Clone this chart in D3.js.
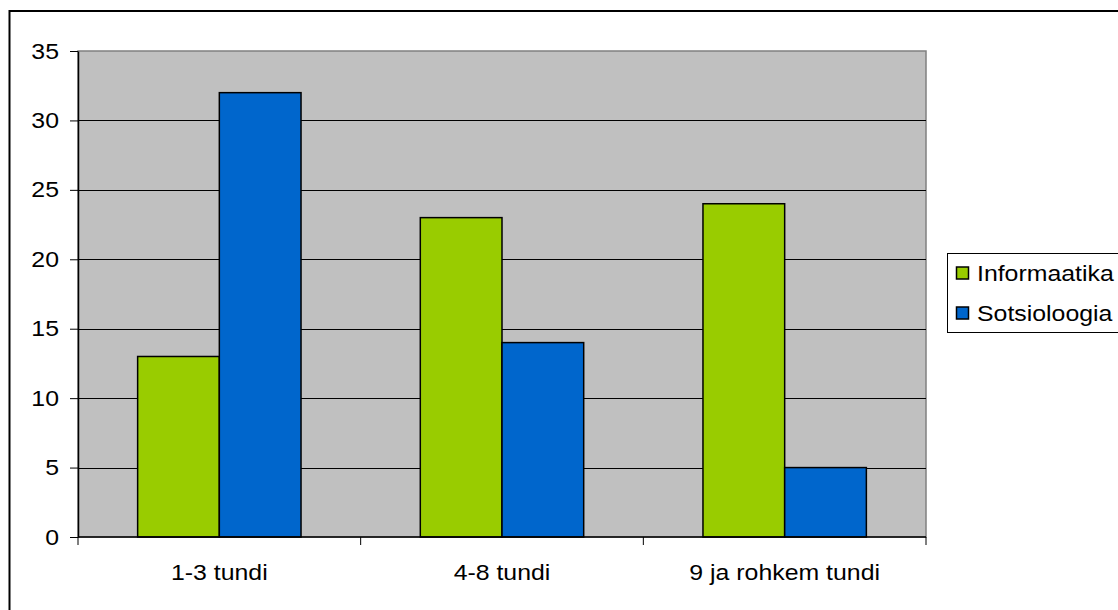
<html>
  <head>
    <meta charset="utf-8" />
    <title>Tunnid</title>
    <script src="https://d3js.org/d3.v7.min.js"></script>
    <style>
      body {
        margin: 0;
        background: #fff;
      }
      text {
        font-family: "Liberation Sans", Arial, sans-serif;
        fill: #000;
      }
    </style>
  </head>
  <body>
    <svg id="chart"></svg>
    <script>
      var categories = ["1-3 tundi", "4-8 tundi", "9 ja rohkem tundi"];
      var seriesNames = ["Informaatika", "Sotsioloogia"];
      var informaatika = [13, 23, 24];
      var sotsioloogia = [32, 14, 5];
      var yTicks = [0, 5, 10, 15, 20, 25, 30, 35];
      var colors = ["#99cc00", "#0066cc"];

      var width = 1118;
      var height = 610;
      var fontSize = 22;
      var stretchX = 1.13; // the original text is a bit wide
      var plot = { left: 78, right: 926, top: 51, bottom: 537 };

      var svg = d3.select("#chart")
        .attr("width", width)
        .attr("height", height);

      function stretch(sel) {
        sel.each(function() {
          var t = d3.select(this);
          var x0 = +t.attr("x") || 0;
          t.attr("x", x0 / stretchX)
            .attr("transform", "scale(" + stretchX + ",1)");
        });
      }

      // outer frame (runs off the right and bottom edges)
      svg.append("rect")
        .attr("x", 9.5)
        .attr("y", 11)
        .attr("width", width + 20)
        .attr("height", height + 20)
        .attr("fill", "#fff")
        .attr("stroke", "#000")
        .attr("stroke-width", 2);

      var x = d3.scaleBand()
        .domain(categories)
        .range([plot.left, plot.right]);

      var inner = d3.scaleBand()
        .domain(seriesNames)
        .range([0, x.bandwidth()])
        .paddingOuter(0.73)
        .paddingInner(0);

      var y = d3.scaleLinear()
        .domain([0, 35])
        .range([plot.bottom, plot.top]);

      // plot background
      svg.append("rect")
        .attr("x", plot.left)
        .attr("y", plot.top)
        .attr("width", plot.right - plot.left)
        .attr("height", plot.bottom - plot.top)
        .attr("fill", "#c0c0c0")
        .attr("stroke", "#808080")
        .attr("stroke-width", 1.5);

      // gridlines
      svg.append("g")
        .selectAll("line")
        .data(yTicks.filter(function(d) { return d > 0 && d < 35; }))
        .enter().append("line")
        .attr("x1", plot.left)
        .attr("x2", plot.right)
        .attr("y1", function(d) { return Math.round(y(d)) + 0.5; })
        .attr("y2", function(d) { return Math.round(y(d)) + 0.5; })
        .attr("stroke", "#000")
        .attr("stroke-width", 1);

      var series = [informaatika, sotsioloogia];

      var groups = svg.append("g")
        .selectAll("g")
        .data(categories)
        .enter().append("g")
        .attr("transform", function(d) { return "translate(" + x(d) + ",0)"; });

      groups.selectAll("rect")
        .data(function(d, i) {
          return seriesNames.map(function(s, j) {
            return { name: s, value: series[j][i], color: colors[j] };
          });
        })
        .enter().append("rect")
        .attr("x", function(d) { return inner(d.name); })
        .attr("width", inner.bandwidth())
        .attr("y", function(d) { return y(d.value); })
        .attr("height", function(d) { return y(0) - y(d.value); })
        .attr("fill", function(d) { return d.color; })
        .attr("stroke", "#000")
        .attr("stroke-width", 1.5);

      // y axis
      var yAxis = d3.axisLeft(y)
        .tickValues(yTicks)
        .tickSize(8)
        .tickPadding(11)
        .tickSizeOuter(0);

      var yG = svg.append("g")
        .attr("transform", "translate(" + plot.left + ",0)")
        .call(yAxis);
      yG.select(".domain").attr("stroke", "#000").attr("stroke-width", 1.5);
      yG.selectAll(".tick line").attr("stroke", "#000");
      yG.selectAll("text")
        .attr("font-size", fontSize)
        .attr("font-family", "Liberation Sans, Arial, sans-serif")
        .attr("fill", "#000")
        .call(stretch);

      // x axis with ticks at band boundaries
      var xG = svg.append("g")
        .attr("transform", "translate(0," + plot.bottom + ")");
      xG.append("line")
        .attr("x1", plot.left)
        .attr("x2", plot.right)
        .attr("stroke", "#000")
        .attr("stroke-width", 1.5);
      var bounds = categories.map(function(c) { return x(c); }).concat([plot.right]);
      xG.selectAll(".xt")
        .data(bounds)
        .enter().append("line")
        .attr("class", "xt")
        .attr("x1", function(d) { return d; })
        .attr("x2", function(d) { return d; })
        .attr("y1", 0)
        .attr("y2", 8)
        .attr("stroke", "#000");
      xG.selectAll("text")
        .data(categories)
        .enter().append("text")
        .attr("x", function(d) { return x(d) + x.bandwidth() / 2; })
        .attr("y", 43)
        .attr("text-anchor", "middle")
        .attr("font-size", fontSize)
        .text(function(d) { return d; })
        .call(stretch);

      // legend
      var legend = svg.append("g")
        .attr("transform", "translate(947,253)");
      legend.append("rect")
        .attr("x", 0.5)
        .attr("y", 0.5)
        .attr("width", 200)
        .attr("height", 79)
        .attr("fill", "#fff")
        .attr("stroke", "#000")
        .attr("stroke-width", 1);

      var items = legend.selectAll(".item")
        .data(seriesNames)
        .enter().append("g")
        .attr("class", "item")
        .attr("transform", function(d, i) { return "translate(0," + (20 + i * 40) + ")"; });
      items.append("rect")
        .attr("x", 9.5)
        .attr("y", -6)
        .attr("width", 12)
        .attr("height", 12)
        .attr("fill", function(d, i) { return colors[i]; })
        .attr("stroke", "#000")
        .attr("stroke-width", 1.5);
      items.append("text")
        .attr("x", 30)
        .attr("y", 8)
        .attr("font-size", fontSize)
        .text(function(d) { return d; })
        .call(stretch);
    </script>
  </body>
</html>
